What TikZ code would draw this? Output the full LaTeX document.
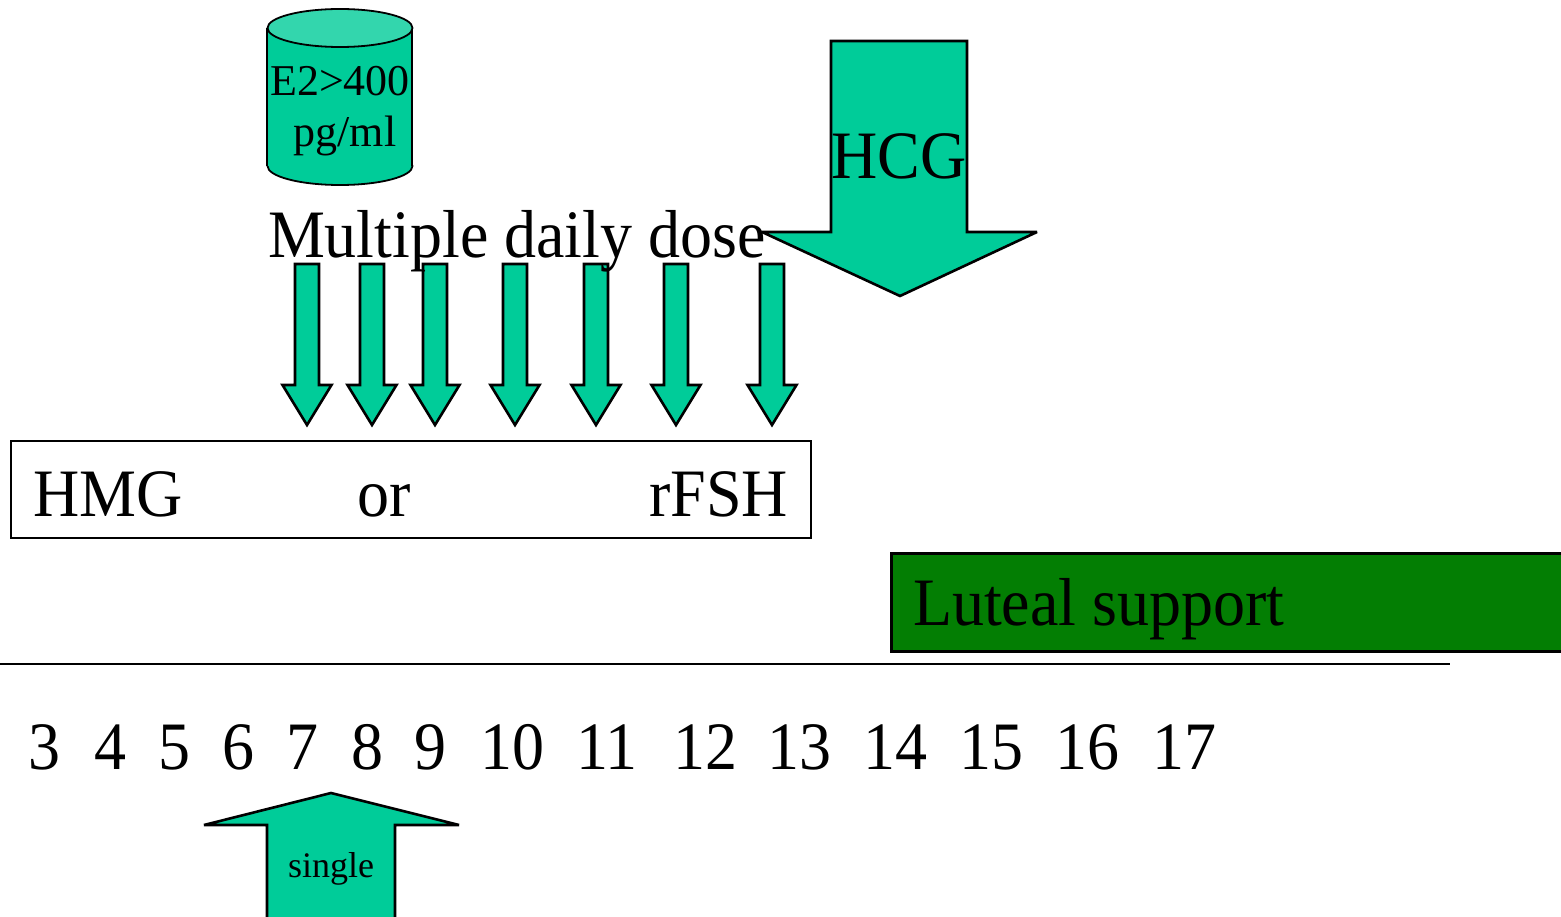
\documentclass[tikz,border=0pt]{standalone}
\usepackage{fontspec}
\setmainfont{Liberation Serif}
\begin{document}
\begin{tikzpicture}[x=1pt,y=-1pt,
  inner sep=0pt, outer sep=0pt,
  big/.style={font=\fontsize{64}{70}\selectfont, anchor=base, yscale=1.06, transform shape},
  mid/.style={font=\fontsize{44}{48}\selectfont, anchor=base},
  small/.style={font=\fontsize{36}{40}\selectfont, anchor=base},
  shot/.style={fill=doseteal, draw=black, line width=2.6pt, line join=miter, miter limit=3},
]
\definecolor{doseteal}{RGB}{0,204,153}
\definecolor{captop}{RGB}{51,214,173}
\definecolor{lutealgreen}{RGB}{3,126,3}
\useasboundingbox (0,0) rectangle (1561,917);
\fill[white] (0,0) rectangle (1561,917);

% serum estradiol threshold drawn as a cylinder
\filldraw[fill=doseteal, line width=1.8pt] (340,166) ellipse [x radius=72.5, y radius=19];
\fill[doseteal] (267,28) rectangle (412,166);
\draw[line width=1.8pt] (267,28) -- (267,166) (412,28) -- (412,166);
\filldraw[fill=captop, line width=1.8pt] (340,28) ellipse [x radius=72.5, y radius=19];
\node[mid] (e2) at (340,96) {E2>400};
\node[mid] (pg) at (345,147) {pg/ml};

% ovulation trigger
\draw[shot] (831,41) -- (967,41) -- (967,232) -- (1037,232) -- (900,296)
  -- (762,232) -- (831,232) -- cycle;
\node[big] (hcg) at (899,179) {HCG};

% daily gonadotropin injections
\foreach \cx [count=\i] in {307,372,435,515,596,676,772}{
  \draw[shot] (\cx-12,264) -- (\cx+12,264) -- (\cx+12,385) -- (\cx+24.5,385)
    -- (\cx,425) -- (\cx-24.5,385) -- (\cx-12,385) -- cycle;
}
\node[big, anchor=base west] (mdd) at (268,258) {Multiple daily dose};

% gonadotropin choice
\draw[line width=2pt] (11,441) rectangle (811,538);
\node[big, anchor=base west] (hmg) at (33,516) {HMG};
\node[big] (or) at (384,516) {or};
\node[big, anchor=base east] (rfsh) at (788,516) {rFSH};

% luteal phase support
\filldraw[fill=lutealgreen, line width=3pt] (891,553) rectangle (1575,651);
\node[big, anchor=base west] (lut) at (913,625) {Luteal support};

% cycle day axis
\draw[line width=2.4pt] (0,664) -- (1450,664);
\foreach \d/\x in {3/44,4/110,5/174,6/238,7/302,8/367,9/430,10/512,11/607,12/705,13/799,14/895,15/991,16/1087,17/1184}{
  \node[big] (day\d) at (\x,769) {\d};
}

% single dose alternative
\draw[shot] (331,793) -- (459,825) -- (395,825) -- (395,935) -- (267,935)
  -- (267,825) -- (204,825) -- cycle;
\node[small] (single) at (331,877) {single};
\end{tikzpicture}
\end{document}
